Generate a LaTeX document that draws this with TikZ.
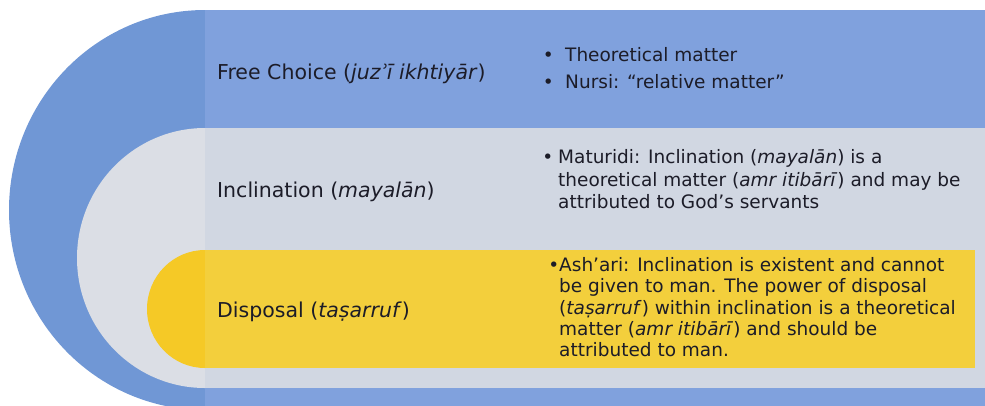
\documentclass[tikz,border=0pt]{standalone}
\usepackage{fontspec}
\setmainfont{DejaVu Sans}
\usepackage{tikz}
\usetikzlibrary{positioning}
\definecolor{ChoiceBlue}{RGB}{112,151,213}
\definecolor{ChoiceBand}{RGB}{128,161,221}
\definecolor{InclGrey}{RGB}{219,222,229}
\definecolor{InclBand}{RGB}{209,215,226}
\definecolor{DispGold}{RGB}{245,201,38}
\definecolor{DispBand}{RGB}{243,207,60}
\definecolor{InkNavy}{RGB}{28,28,40}

\begin{document}
\begin{tikzpicture}[x=1pt, y=-1pt,
    label/.style={anchor=base west, inner sep=0pt, text=InkNavy,
                  font=\fontsize{20.5}{24}\selectfont},
    notes/.style={anchor=base west, inner sep=0pt, align=left, text=InkNavy}]
    \useasboundingbox (0,0) rectangle (985,405);
    \clip (0,0) rectangle (985,405);

    % Capa exterior
    \fill[ChoiceBlue] (205,10) arc[start angle=270, end angle=90, x radius=196, y radius=200] -- cycle;
    \fill[ChoiceBand] (205,10) rectangle (985,410);

    % Capa intermedia
    \fill[InclGrey] (205,128) arc[start angle=270, end angle=90, x radius=128, y radius=130] -- cycle;
    \fill[InclBand] (205,128) rectangle (985,388);

    % Capa interior
    \fill[DispGold] (205,250) arc[start angle=270, end angle=90, x radius=58, y radius=59] -- cycle;
    \fill[DispBand] (205,250) rectangle (975,368);

    % Etiquetas
    \node[label] (choice) at (217,79.5) {Free Choice (\textit{juzʾī ikhtiyār})};
    \node[label] (incl) at (217,197.5) {Inclination (\textit{mayalān})};
    \node[label] (disp) at (217,317.5) {Disposal (\textit{taṣarruf})};

    % Notas (base = ultima linea)
    \node[notes, font=\fontsize{18.5}{27}\selectfont] (choicenotes) at (565,88.5)
        {\llap{•\hspace{11.5pt}}Theoretical matter\\
         \llap{•\hspace{11.5pt}}Nursi: “relative matter”};
    \node[notes, font=\fontsize{18.5}{22.5}\selectfont] (inclnotes) at (558,208.5)
        {\llap{•\hspace{5pt}}Maturidi: Inclination (\textit{mayalān}) is a\\
         theoretical matter (\textit{amr itibārī}) and may be\\
         attributed to God’s servants};
    \node[notes, font=\fontsize{18.5}{21.25}\selectfont] (dispnotes) at (559,356.5)
        {\llap{•}Ash’ari: Inclination is existent and cannot\\
         be given to man. The power of disposal\\
         (\textit{taṣarruf}) within inclination is a theoretical\\
         matter (\textit{amr itibārī}) and should be\\
         attributed to man.};
\end{tikzpicture}
\end{document}
